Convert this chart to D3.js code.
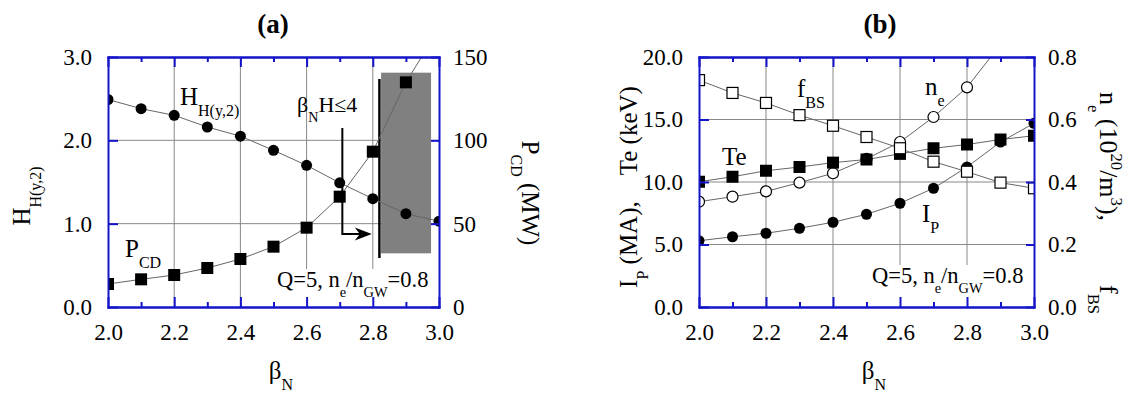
<!DOCTYPE html>
<html>
<head>
<meta charset="utf-8">
<script src="https://cdn.jsdelivr.net/npm/d3@7"></script>
<style>
body { margin: 0; background: #fff; }
svg text, svg tspan { font-family: "Liberation Serif", "Times New Roman", serif; }
</style>
</head>
<body>
<svg width="1136" height="394"></svg>
<script>
// 共通の横軸
const betaN = [2.0, 2.1, 2.2, 2.3, 2.4, 2.5, 2.6, 2.7, 2.8, 2.9, 3.0];
const xMajor = [2.0, 2.2, 2.4, 2.6, 2.8, 3.0];
const xMinor = [2.1, 2.3, 2.5, 2.7, 2.9];
const xGrid = [2.2, 2.4, 2.6, 2.8];

// (a)
const hHy2 = [2.49, 2.38, 2.30, 2.16, 2.05, 1.88, 1.70, 1.49, 1.30, 1.12, 1.03];
const pCD = [13.8, 16.6, 19.2, 23.4, 28.8, 36.2, 47.6, 66.2, 93.2, 134.8, 167];
const aLeftTicks = [0, 1, 2, 3];
const aRightTicks = [0, 50, 100, 150];
const limitBeta = 2.82;
const limitP = [29.4, 136.8];
const arrowBeta = [2.708, 2.797];
const arrowP = [107.4, 43.8];
const excludedBeta = [2.825, 2.976];
const excludedP = [32.2, 140.6];

// (b)
const ip = [5.3, 5.62, 5.9, 6.3, 6.78, 7.42, 8.3, 9.5, 11.2, 13.2, 14.7];
const te = [10.02, 10.42, 10.9, 11.2, 11.55, 11.8, 12.25, 12.7, 13.0, 13.4, 13.7];
const ne = [0.337, 0.353, 0.370, 0.398, 0.428, 0.474, 0.528, 0.608, 0.703, 0.84, 1.0];
const fBS = [0.726, 0.685, 0.653, 0.614, 0.580, 0.544, 0.508, 0.465, 0.433, 0.398, 0.380];
const bLeftTicks = [0, 5, 10, 15, 20];
const bRightTicks = [0, 0.2, 0.4, 0.6, 0.8];

const svg = d3.select("svg");
const serif = "Liberation Serif, Times New Roman, serif";
const blue = "#1414c8";
const gridColor = "#888";
const lineColor = "#666";

// 下付き・上付きを含む文字列  parts: "text" | [text, kind, dx]
function rich(sel, parts, size) {
    let shift = 0;
    sel.attr("font-family", serif);
    parts.forEach(p => {
        const t = typeof p === "string" ? p : p[0];
        const kind = typeof p === "string" ? null : p[1];
        const dx = typeof p === "string" ? 0 : (p[2] || 0);
        const target = kind === "sub" ? size * 0.45 : kind === "sup" ? -size * 0.42 : 0;
        sel.append("tspan")
            .attr("dy", target - shift)
            .attr("dx", dx)
            .attr("font-family", serif)
            .attr("font-size", kind ? size * 0.64 : size)
            .text(t);
        shift = target;
    });
    return sel;
}

function makePanel(box, yLmax, yRmax, yLticks) {
    const x = d3.scaleLinear().domain([2, 3]).range([box.left, box.right]);
    const yL = d3.scaleLinear().domain([0, yLmax]).range([box.bottom, box.top]);
    const yR = d3.scaleLinear().domain([0, yRmax]).range([box.bottom, box.top]);
    const g = svg.append("g");
    const gridG = g.append("g").attr("stroke", gridColor).attr("stroke-width", 1);
    gridG.selectAll("line.v").data(xGrid).join("line")
        .attr("class", "v")
        .attr("x1", d => x(d)).attr("x2", d => x(d))
        .attr("y1", box.top).attr("y2", box.bottom);
    gridG.selectAll("line.h").data(yLticks.slice(1, -1)).join("line")
        .attr("class", "h")
        .attr("x1", box.left).attr("x2", box.right)
        .attr("y1", d => yL(d)).attr("y2", d => yL(d));
    const id = "clip" + box.left;
    svg.append("clipPath").attr("id", id).append("rect")
        .attr("x", box.left).attr("y", box.top)
        .attr("width", box.right - box.left).attr("height", box.bottom - box.top);
    const over = g.append("g");
    const marks = g.append("g").attr("clip-path", `url(#${id})`);
    return { x, yL, yR, g, over, marks, box };
}

function qLabel(p, px, py) {
    const qg = p.over.append("g");
    const bg = qg.append("rect").attr("fill", "#fff");
    const t = qg.append("text").attr("x", px).attr("y", py);
    rich(t, ["Q=5, n", ["e", "sub"], "/n", ["GW", "sub"], "=0.8"], 22.5);
    const bb = t.node().getBBox();
    bg.attr("x", bb.x - 2).attr("y", bb.y + 2)
        .attr("width", bb.width + 4).attr("height", p.box.bottom - 3 - bb.y);
}

function series(p, ys, yScale) {
    p.marks.append("path")
        .datum(betaN.map((b, i) => [b, ys[i]]))
        .attr("d", d3.line().x(d => p.x(d[0])).y(d => yScale(d[1])))
        .attr("fill", "none")
        .attr("stroke", lineColor)
        .attr("stroke-width", 1);
}

function circles(p, ys, yScale, filled) {
    p.marks.append("g").selectAll("circle")
        .data(betaN.map((b, i) => [b, ys[i]]))
        .join("circle")
        .attr("cx", d => p.x(d[0])).attr("cy", d => yScale(d[1]))
        .attr("r", 5.5)
        .attr("fill", filled ? "#000" : "#fff")
        .attr("stroke", "#000").attr("stroke-width", filled ? 0 : 1.2);
}

function squares(p, ys, yScale, filled) {
    const s = filled ? 12 : 11;
    p.marks.append("g").selectAll("rect")
        .data(betaN.map((b, i) => [b, ys[i]]))
        .join("rect")
        .attr("x", d => p.x(d[0]) - s / 2).attr("y", d => yScale(d[1]) - s / 2)
        .attr("width", s).attr("height", s)
        .attr("fill", filled ? "#000" : "#fff")
        .attr("stroke", "#000").attr("stroke-width", filled ? 0 : 1.2);
}

function styleAxis(sel) {
    sel.attr("font-family", serif).attr("font-size", 23);
    sel.select(".domain").attr("stroke", blue).attr("stroke-width", 2).attr("stroke-linecap", "square");
    sel.selectAll(".tick line").attr("stroke", blue).attr("stroke-width", 2);
    sel.selectAll(".tick text").attr("fill", "#000").attr("font-family", serif);
}

function drawAxes(p, yLticks, yRticks, fmtL, fmtR) {
    const { x, yL, yR, box } = p;
    const ax = svg.append("g");
    ax.append("g").attr("transform", `translate(0,${box.bottom})`)
        .call(d3.axisBottom(x).tickValues(xMinor).tickSize(-5).tickSizeOuter(0).tickFormat(""))
        .call(styleAxis);
    ax.append("g").attr("transform", `translate(0,${box.top})`)
        .call(d3.axisTop(x).tickValues(xMinor).tickSize(-5).tickSizeOuter(0).tickFormat(""))
        .call(styleAxis);
    ax.append("g").attr("transform", `translate(0,${box.top})`)
        .call(d3.axisTop(x).tickValues(xMajor).tickSize(-10).tickSizeOuter(0).tickFormat(""))
        .call(styleAxis);
    ax.append("g").attr("transform", `translate(0,${box.bottom})`)
        .call(d3.axisBottom(x).tickValues(xMajor).tickSize(-10).tickSizeOuter(0)
            .tickPadding(17).tickFormat(d3.format(".1f")))
        .call(styleAxis);
    ax.append("g").attr("transform", `translate(${box.left},0)`)
        .call(d3.axisLeft(yL).tickValues(yLticks).tickSize(-10).tickSizeOuter(0)
            .tickPadding(16).tickFormat(fmtL))
        .call(styleAxis);
    ax.append("g").attr("transform", `translate(${box.right},0)`)
        .call(d3.axisRight(yR).tickValues(yRticks).tickSize(-8).tickSizeOuter(0)
            .tickPadding(14).tickFormat(fmtR))
        .call(styleAxis);
}

// ---------- (a) ----------
const pa = makePanel({ left: 108, right: 439, top: 57, bottom: 307 }, 3, 150, aLeftTicks);
qLabel(pa, 277, 287);
pa.marks.append("rect")
    .attr("x", pa.x(excludedBeta[0]))
    .attr("y", pa.yR(excludedP[1]))
    .attr("width", pa.x(excludedBeta[1]) - pa.x(excludedBeta[0]))
    .attr("height", pa.yR(excludedP[0]) - pa.yR(excludedP[1]))
    .attr("fill", "#808080");
pa.marks.append("line")
    .attr("x1", pa.x(limitBeta)).attr("x2", pa.x(limitBeta))
    .attr("y1", pa.yR(limitP[0])).attr("y2", pa.yR(limitP[1]))
    .attr("stroke", "#000").attr("stroke-width", 2.5);
{
    const x0 = pa.x(arrowBeta[0]), x1 = pa.x(arrowBeta[1]);
    const y0 = pa.yR(arrowP[0]), y1 = pa.yR(arrowP[1]);
    pa.marks.append("path")
        .attr("d", `M${x0},${y0}V${y1}H${x1 - 8}`)
        .attr("fill", "none").attr("stroke", "#000").attr("stroke-width", 2);
    pa.marks.append("path")
        .attr("d", `M${x1},${y1}L${x1 - 17},${y1 - 6.5}L${x1 - 12},${y1}L${x1 - 17},${y1 + 6.5}Z`)
        .attr("fill", "#000");
}
series(pa, hHy2, pa.yL);
series(pa, pCD, pa.yR);
circles(pa, hHy2, pa.yL, true);
squares(pa, pCD, pa.yR, true);

pa.g.append("text").attr("x", 273).attr("y", 33).attr("text-anchor", "middle")
    .attr("font-family", serif).attr("font-weight", "bold").attr("font-size", 27).text("(a)");
rich(pa.g.append("text").attr("x", 180).attr("y", 105), ["H", ["H(y,2)", "sub"]], 25);
rich(pa.g.append("text").attr("x", 297).attr("y", 112), ["β", ["N", "sub"], "H≤4"], 22);
rich(pa.g.append("text").attr("x", 125).attr("y", 257), ["P", ["CD", "sub"]], 25);
rich(pa.g.append("text").attr("x", 281).attr("y", 379).attr("text-anchor", "middle"),
    ["β", ["N", "sub"]], 25);
rich(pa.g.append("text").attr("transform", "translate(30,196) rotate(-90)")
    .attr("text-anchor", "middle"), ["H", ["H(y,2)", "sub"]], 25);
rich(pa.g.append("text").attr("transform", "translate(522,193) rotate(90)")
    .attr("text-anchor", "middle"), ["P", ["CD", "sub"], " (MW)"], 25);
drawAxes(pa, aLeftTicks, aRightTicks, d3.format(".1f"), d3.format("d"));

// ---------- (b) ----------
const pb = makePanel({ left: 699, right: 1034, top: 57, bottom: 307 }, 20, 0.8, bLeftTicks);
qLabel(pb, 872, 283);
series(pb, ip, pb.yL);
series(pb, ne, pb.yR);
series(pb, te, pb.yL);
series(pb, fBS, pb.yR);
circles(pb, ip, pb.yL, true);
circles(pb, ne, pb.yR, false);
squares(pb, te, pb.yL, true);
squares(pb, fBS, pb.yR, false);

pb.g.append("text").attr("x", 880).attr("y", 33).attr("text-anchor", "middle")
    .attr("font-family", serif).attr("font-weight", "bold").attr("font-size", 27).text("(b)");
rich(pb.g.append("text").attr("x", 797).attr("y", 97), ["f", ["BS", "sub"]], 25);
rich(pb.g.append("text").attr("x", 925).attr("y", 95), ["n", ["e", "sub"]], 25);
rich(pb.g.append("text").attr("x", 722).attr("y", 165), ["Te"], 25);
rich(pb.g.append("text").attr("x", 922).attr("y", 222), ["I", ["P", "sub"]], 25);
rich(pb.g.append("text").attr("x", 874).attr("y", 379).attr("text-anchor", "middle"),
    ["β", ["N", "sub"]], 25);
rich(pb.g.append("text").attr("transform", "translate(637,187) rotate(-90)")
    .attr("text-anchor", "middle"),
    ["I", ["P", "sub"], " (MA),", ["Te (keV)", null, 26]], 25);
rich(pb.g.append("text").attr("transform", "translate(1100,203) rotate(90)")
    .attr("text-anchor", "middle"),
    ["n", ["e", "sub"], " (10", ["20", "sup"], "/m", ["3", "sup"], "),", ["f", null, 64], ["BS", "sub"]], 26);
drawAxes(pb, bLeftTicks, bRightTicks, d3.format(".1f"), d3.format(".1f"));
</script>
</body>
</html>
